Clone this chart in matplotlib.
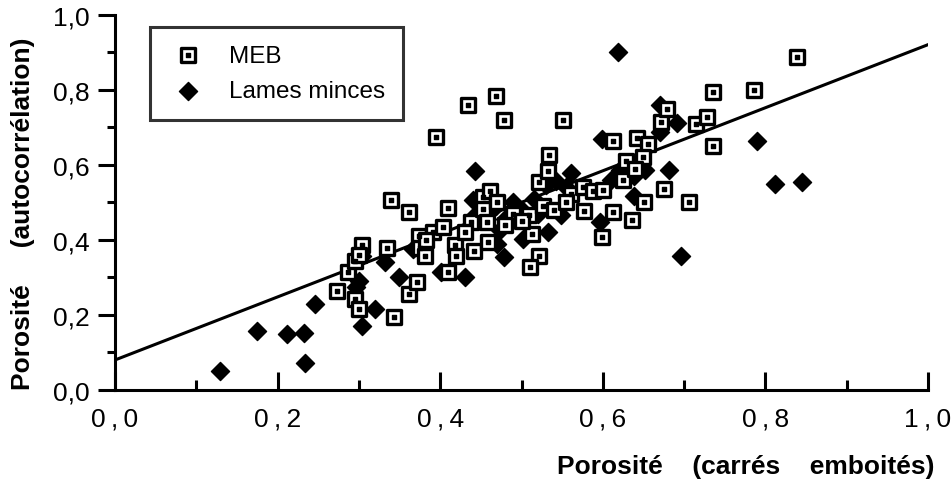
import numpy as np
import matplotlib.pyplot as plt
from matplotlib.ticker import MultipleLocator, FixedLocator

plt.rcParams['font.family'] = ['Liberation Sans', 'DejaVu Sans']

# MEB points (porosité carrés emboités, porosité autocorrélation)
meb_x = [0.273, 0.287, 0.295, 0.304, 0.295, 0.300, 0.335, 0.340, 0.343, 0.362,
         0.362, 0.371, 0.374, 0.375, 0.381, 0.391, 0.403, 0.410, 0.410, 0.418,
         0.420, 0.441, 0.438, 0.453, 0.453, 0.461, 0.457, 0.459, 0.395, 0.434,
         0.469, 0.478, 0.489, 0.509, 0.513, 0.522, 0.511, 0.527, 0.521, 0.532,
         0.534, 0.551, 0.561, 0.576, 0.588, 0.600, 0.577, 0.612, 0.599, 0.613,
         0.642, 0.655, 0.628, 0.650, 0.636, 0.651, 0.675, 0.706, 0.671, 0.679,
         0.715, 0.728, 0.735, 0.735, 0.786, 0.839, 0.470, 0.480, 0.500, 0.540,
         0.555, 0.625, 0.640, 0.300, 0.382, 0.430]
meb_y = [0.265, 0.314, 0.343, 0.387, 0.243, 0.216, 0.378, 0.505, 0.194, 0.475,
         0.256, 0.287, 0.411, 0.378, 0.358, 0.422, 0.434, 0.484, 0.315, 0.385,
         0.358, 0.371, 0.447, 0.514, 0.483, 0.531, 0.447, 0.394, 0.674, 0.760,
         0.782, 0.718, 0.469, 0.465, 0.416, 0.358, 0.327, 0.491, 0.554, 0.583,
         0.627, 0.718, 0.522, 0.541, 0.529, 0.534, 0.478, 0.474, 0.407, 0.662,
         0.671, 0.656, 0.609, 0.620, 0.452, 0.500, 0.536, 0.500, 0.714, 0.749,
         0.709, 0.727, 0.651, 0.794, 0.798, 0.887, 0.500, 0.440, 0.450, 0.480,
         0.500, 0.560, 0.590, 0.360, 0.400, 0.420]

# Lames minces points
lm_x = [0.129, 0.175, 0.211, 0.233, 0.234, 0.246, 0.296, 0.304, 0.320, 0.332,
        0.349, 0.304, 0.401, 0.431, 0.443, 0.440, 0.470, 0.478, 0.468, 0.474,
        0.480, 0.502, 0.515, 0.533, 0.548, 0.543, 0.561, 0.597, 0.599, 0.619,
        0.621, 0.638, 0.652, 0.638, 0.670, 0.670, 0.691, 0.681, 0.696, 0.790,
        0.812, 0.845, 0.367, 0.500, 0.520, 0.490, 0.530, 0.555, 0.300, 0.440,
        0.610]
lm_y = [0.050, 0.156, 0.149, 0.151, 0.071, 0.229, 0.274, 0.171, 0.216, 0.340,
        0.300, 0.358, 0.314, 0.300, 0.583, 0.505, 0.389, 0.354, 0.491, 0.425,
        0.456, 0.403, 0.509, 0.420, 0.465, 0.558, 0.579, 0.447, 0.669, 0.900,
        0.585, 0.571, 0.585, 0.516, 0.758, 0.688, 0.712, 0.585, 0.358, 0.662,
        0.549, 0.555, 0.376, 0.480, 0.470, 0.500, 0.545, 0.540, 0.290, 0.460,
        0.560]

# regression line
fit_x = [0.0, 1.0]
fit_y = [0.08, 0.92]

ticks = [0.0, 0.2, 0.4, 0.6, 0.8, 1.0]
xlabels = ['0\u2009,\u20090', '0\u2009,\u20092', '0\u2009,\u20094',
           '0\u2009,\u20096', '0\u2009,\u20098', '1\u2009,\u20090']
ylabels = ['0,0', '0,2', '0,4', '0,6', '0,8', '1,0']

fig = plt.figure(figsize=(9.53, 4.85), dpi=100)
ax = fig.add_axes([0.1207, 0.1938, 0.8531, 0.774])

ax.plot(fit_x, fit_y, color='black', lw=2.2, zorder=2)

dia = ax.scatter(lm_x, lm_y, marker='D', s=85, c='black', zorder=3)
sq = ax.scatter(meb_x, meb_y, marker='s', s=100, facecolor='white',
                edgecolor='black', linewidth=2.4, zorder=4)
dot = ax.scatter(meb_x, meb_y, marker='s', s=5, c='black', zorder=5)

ax.set_xlim(0, 1.0)
ax.set_ylim(0, 1.0)
ax.spines['top'].set_visible(False)
ax.spines['right'].set_visible(False)
ax.spines['left'].set_linewidth(2.2)
ax.spines['bottom'].set_linewidth(2.2)

ax.xaxis.set_major_locator(FixedLocator(ticks))
ax.yaxis.set_major_locator(FixedLocator(ticks))
ax.xaxis.set_minor_locator(MultipleLocator(0.1))
ax.yaxis.set_minor_locator(MultipleLocator(0.1))
ax.set_xticklabels(xlabels)
ax.set_yticklabels(ylabels)
ax.tick_params(axis='x', which='major', direction='in', length=13, width=2.2,
               labelsize=19, pad=12)
ax.tick_params(axis='x', which='minor', direction='in', length=7, width=2.2)
ax.tick_params(axis='y', which='major', direction='out', length=12, width=2.2,
               labelsize=19, pad=6)
ax.tick_params(axis='y', which='minor', direction='out', length=6, width=2.2)

fig.text(0.981, 0.037, 'Porosité    (carrés    emboités)', ha='right',
         va='center', fontsize=19, fontweight='bold')
fig.text(0.024, 0.56, 'Porosité     (autocorrélation)', ha='center',
         va='center', rotation=90, fontsize=19, fontweight='bold')

leg = ax.legend([(sq, dot), dia], ['MEB', 'Lames minces'], loc='upper left',
                bbox_to_anchor=(0.043, 0.968), fontsize=17.5, frameon=True,
                fancybox=False, edgecolor='black', borderpad=0.75,
                handlelength=1.6, handletextpad=0.9, labelspacing=0.55,
                borderaxespad=0)
leg.get_frame().set_linewidth(2.2)

fig.savefig('out.png', dpi=100)
